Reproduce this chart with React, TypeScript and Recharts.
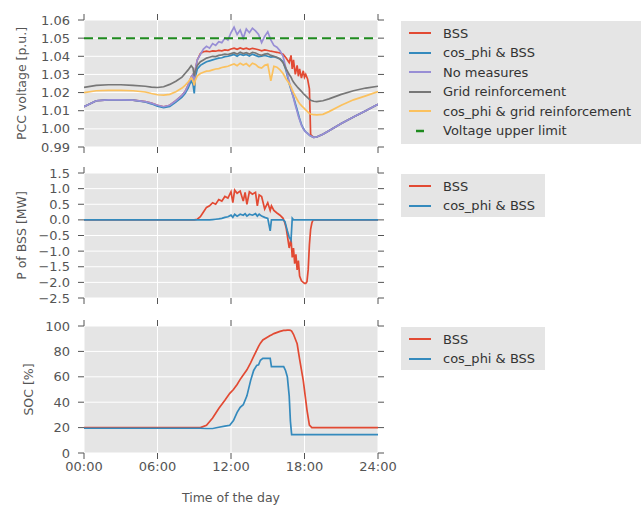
import React from 'react';
import { LineChart, Line, XAxis, YAxis, CartesianGrid, ReferenceLine, Legend, Label } from 'recharts';

// ---------- Panel 1: PCC voltage [p.u.] ----------
const timeV = [0, 1, 2, 3, 4, 5, 5.5, 6, 6.5, 7,
  7.5, 8, 8.25, 8.5, 8.75, 8.9, 9, 9.1, 9.25, 9.5,
  9.75, 10, 10.25, 10.5, 10.75, 11, 11.25, 11.5, 11.75, 12,
  12.25, 12.5, 12.75, 13, 13.25, 13.5, 13.75, 14, 14.25, 14.5,
  14.75, 15, 15.25, 15.5, 15.75, 16, 16.25, 16.5, 16.75, 16.9,
  17, 17.1, 17.25, 17.4, 17.5, 17.6, 17.75, 17.9, 18, 18.1,
  18.25, 18.4, 18.5, 18.75, 19, 19.5, 20, 21, 22, 23,
  24];

const vBss = [1.0122, 1.0155, 1.016, 1.016, 1.0158, 1.015, 1.0142, 1.013, 1.0122, 1.013,
  1.0155, 1.0185, 1.0205, 1.024, 1.0285, 1.03, 1.024, 1.033, 1.038, 1.0415,
  1.0425, 1.0428, 1.0425, 1.043, 1.0428, 1.0432, 1.043, 1.0435, 1.0433, 1.044,
  1.0445, 1.0438, 1.0446, 1.044, 1.0445, 1.0438, 1.0444, 1.044, 1.0436, 1.043,
  1.0435, 1.0432, 1.0428, 1.0425, 1.0422, 1.0418, 1.0412, 1.039, 1.0365, 1.0405,
  1.033, 1.038, 1.03, 1.035, 1.029, 1.033, 1.028, 1.032, 1.0285, 1.03,
  1.0275, 1.022, 0.9968, 0.9953, 0.9955, 0.997, 0.999, 1.003, 1.0065, 1.01,
  1.0135];

const vCosPhiBss = [1.0122, 1.0155, 1.016, 1.016, 1.0158, 1.0148, 1.0138, 1.0125, 1.0117, 1.0124,
  1.0148, 1.0175, 1.0195, 1.0225, 1.0265, 1.0245, 1.0195, 1.029, 1.033, 1.035,
  1.036, 1.037, 1.0375, 1.038, 1.0385, 1.039, 1.0392, 1.0398, 1.04, 1.0405,
  1.041, 1.04, 1.0412, 1.0405, 1.041, 1.0402, 1.0412, 1.0405, 1.0398, 1.04,
  1.0405, 1.04, 1.0395, 1.0398, 1.0392, 1.0385, 1.037, 1.032, 1.025, 1.0215,
  1.0195, 1.0175, 1.014, 1.0105, 1.008, 1.0055, 1.0025, 1.0003, 0.9992, 0.9983,
  0.9975, 0.9965, 0.996, 0.9953, 0.9955, 0.997, 0.999, 1.003, 1.0065, 1.01,
  1.0135];

const vNoMeasures = [1.0122, 1.0155, 1.016, 1.016, 1.0158, 1.015, 1.0142, 1.013, 1.0122, 1.013,
  1.0155, 1.0185, 1.0205, 1.024, 1.0285, 1.03, 1.024, 1.033, 1.038, 1.041,
  1.044, 1.0455, 1.0445, 1.047, 1.046, 1.048, 1.0475, 1.05, 1.049, 1.053,
  1.056, 1.052, 1.0545, 1.05, 1.055, 1.053, 1.0555, 1.054, 1.052, 1.0475,
  1.051, 1.0535, 1.049, 1.046, 1.045, 1.043, 1.04, 1.033, 1.026, 1.022,
  1.0195, 1.017, 1.013, 1.0095, 1.007, 1.005, 1.002, 1.0, 0.999, 0.9982,
  0.9975, 0.9965, 0.996, 0.9953, 0.9955, 0.997, 0.999, 1.003, 1.0065, 1.01,
  1.0135];

const vGridReinf = [1.0229, 1.024, 1.0243, 1.0243, 1.024, 1.0235, 1.023, 1.0228, 1.0232, 1.0245,
  1.0262, 1.0285, 1.0305, 1.0325, 1.0348, 1.0335, 1.029, 1.032, 1.035, 1.037,
  1.038, 1.039, 1.0395, 1.04, 1.0398, 1.0405, 1.0408, 1.0412, 1.041, 1.0415,
  1.042, 1.0412, 1.0422, 1.0415, 1.042, 1.0412, 1.0422, 1.0418, 1.041, 1.0405,
  1.0412, 1.0415, 1.0405, 1.04, 1.0395, 1.0385, 1.0365, 1.033, 1.03, 1.0285,
  1.027, 1.0258, 1.0245, 1.0232, 1.0225, 1.0218, 1.0207, 1.0195, 1.0188, 1.0182,
  1.0172, 1.0163, 1.0158, 1.0152, 1.015, 1.0155, 1.0165, 1.019, 1.021, 1.0225,
  1.0235];

const vCosPhiGrid = [1.02, 1.021, 1.0212, 1.0212, 1.021, 1.0203, 1.0195, 1.0188, 1.0186, 1.019,
  1.0205, 1.0225, 1.024, 1.0258, 1.028, 1.0265, 1.024, 1.027, 1.0292, 1.0305,
  1.0312, 1.0318, 1.032, 1.0325, 1.033, 1.0332, 1.0338, 1.0342, 1.0345, 1.0352,
  1.0358, 1.0348, 1.0362, 1.0352, 1.036, 1.0345, 1.0362, 1.0355, 1.034, 1.0335,
  1.035, 1.0355, 1.0265, 1.0345, 1.034, 1.0325, 1.0305, 1.0275, 1.025, 1.0232,
  1.0215, 1.02, 1.018, 1.0162, 1.015, 1.014, 1.0128, 1.0118, 1.0112, 1.0105,
  1.0095, 1.0085, 1.0082, 1.0078, 1.0077, 1.008, 1.0095, 1.013, 1.016, 1.0182,
  1.0205];

const voltageUpperLimit = 1.05;

// ---------- Panel 2: P of BSS [MW] ----------
const timeP = [0, 9, 9.25, 9.5, 9.75, 10, 10.25, 10.5, 10.75, 11,
  11.25, 11.5, 11.75, 12, 12.15, 12.3, 12.5, 12.75, 13, 13.15,
  13.3, 13.5, 13.75, 14, 14.15, 14.3, 14.5, 14.75, 15, 15.2,
  15.3, 15.5, 15.75, 16, 16.25, 16.4, 16.5, 16.6, 16.75, 16.9,
  17, 17.1, 17.2, 17.3, 17.4, 17.5, 17.6, 17.75, 17.9, 18,
  18.1, 18.2, 18.3, 18.4, 18.5, 18.6, 18.7, 19, 24];

const pBss = [0, 0, 0.02, 0.1, 0.25, 0.4, 0.45, 0.55, 0.5, 0.65,
  0.6, 0.75, 0.7, 0.9, 0.55, 0.95, 0.85, 0.92, 0.6, 0.88,
  0.5, 0.9, 0.82, 0.88, 0.45, 0.8, 0.75, 0.35, 0.55, 0.3,
  0.45, 0.3, 0.22, 0.15, 0.05, -0.1, -0.25, -0.5, -0.9, -0.6,
  -1.2, -0.9, -1.4, -1.1, -1.6, -1.3, -1.8, -1.95, -2.0, -2.03,
  -2.03, -1.98, -1.6, -0.8, -0.3, -0.1, 0, 0, 0];

const pCosPhiBss = [0, 0, 0, 0, 0, 0, 0, 0.01, 0.02, 0.03,
  0.05, 0.08, 0.1, 0.15, 0.08, 0.18, 0.12, 0.18, 0.15, 0.2,
  0.12, 0.18, 0.15, 0.2, 0.12, 0.18, 0.12, 0.08, 0.05, -0.35,
  0, 0, 0, 0, 0, -0.05, -0.2, -0.35, -0.55, -0.65,
  0.05, 0, 0, 0, 0, 0, 0, 0, 0, 0,
  0, 0, 0, 0, 0, 0, 0, 0, 0];

// ---------- Panel 3: SOC [%] ----------
const timeS = [0, 9.5, 10, 10.5, 11, 11.5, 11.9, 12.2, 12.5, 12.75,
  13, 13.3, 13.6, 13.85, 14.1, 14.25, 14.4, 14.6, 15.2, 15.3,
  15.5, 16, 16.3, 16.45, 16.6, 16.75, 16.85, 16.95, 17.1, 17.4,
  17.6, 17.9, 18.2, 18.4, 18.6, 24];

const socBss = [20, 20, 21.8, 27.5, 35, 41.5, 47, 50, 54, 58,
  61.5, 65.5, 71, 76, 81, 84, 86.5, 89, 92.5, 93,
  94, 95.8, 96.5, 96.6, 96.7, 96.7, 96.6, 96, 93.5, 86,
  74, 57, 34, 22, 20, 20];

const socCosPhiBss = [19.5, 19.5, 19.3, 19.3, 20.3, 21.2, 21.8, 25.5, 32, 36,
  38, 45, 57, 65, 69, 69.5, 73, 74.5, 74.5, 68,
  68, 68, 68, 65, 60, 45, 25, 14.5, 14.5, 14.5,
  14.5, 14.5, 14.5, 14.5, 14.5, 14.5];

// ---------- Axes ----------
const hourTicks = [0, 6, 12, 18, 24];
const hourLabels = ['00:00', '06:00', '12:00', '18:00', '24:00'];
const voltTicks = [0.99, 1.0, 1.01, 1.02, 1.03, 1.04, 1.05, 1.06];
const powerTicks = [-2.5, -2.0, -1.5, -1.0, -0.5, 0, 0.5, 1.0, 1.5];
const socTicks = [0, 20, 40, 60, 80, 100];

const C = {
  bss: '#E24A33',
  cosBss: '#348ABD',
  none: '#988ED5',
  grid: '#777777',
  cosGrid: '#FBC15E',
  limit: '#1E8A1E',
};

const voltLegend = [
  { name: 'BSS', color: C.bss, dashed: false },
  { name: 'cos_phi & BSS', color: C.cosBss, dashed: false },
  { name: 'No measures', color: C.none, dashed: false },
  { name: 'Grid reinforcement', color: C.grid, dashed: false },
  { name: 'cos_phi & grid reinforcement', color: C.cosGrid, dashed: false },
  { name: 'Voltage upper limit', color: C.limit, dashed: true },
];
const bssLegend = [
  { name: 'BSS', color: C.bss, dashed: false },
  { name: 'cos_phi & BSS', color: C.cosBss, dashed: false },
];

const FONT = '"DejaVu Sans", sans-serif';
const TICK = { fontSize: 13, fill: '#555555', fontFamily: FONT };

const voltData = timeV.map((t, i) => ({
  t, bss: vBss[i], cosBss: vCosPhiBss[i], none: vNoMeasures[i], grid: vGridReinf[i], cosGrid: vCosPhiGrid[i],
}));
const powerData = timeP.map((t, i) => ({ t, bss: pBss[i], cosBss: pCosPhiBss[i] }));
const socData = timeS.map((t, i) => ({ t, bss: socBss[i], cosBss: socCosPhiBss[i] }));

const fmtHour = (v: number) => {
  const i = hourTicks.indexOf(v);
  return i >= 0 ? hourLabels[i] : '';
};
const blank = () => '';
const fmtVolt = (v: number) => v.toFixed(2);
const fmtPower = (v: number) => (v < 0 ? '\u2212' + Math.abs(v).toFixed(1) : v.toFixed(1));
const fmtSoc = (v: number) => String(Math.round(v));

function LegendBox({ items, width, height }: { items: typeof voltLegend; width: number; height: number }) {
  return (
    <div style={{ width, height, background: '#E5E5E5', position: 'relative', fontFamily: FONT, fontSize: 13, color: '#333333' }}>
      {items.map((it, i) => (
        <div key={it.name} style={{ position: 'absolute', left: 8, top: 12 + i * 19.5 - 10, height: 20, display: 'flex', alignItems: 'center', whiteSpace: 'nowrap' }}>
          <svg width={22} height={6} style={{ display: 'block' }}>
            {it.dashed
              ? <line x1={7} y1={3} x2={15} y2={3} stroke={it.color} strokeWidth={2.5} />
              : <line x1={0} y1={3} x2={22} y2={3} stroke={it.color} strokeWidth={2} />}
          </svg>
          <span style={{ marginLeft: 12 }}>{it.name}</span>
        </div>
      ))}
    </div>
  );
}

const yLabel = (text: string, x: number) => (props: any) => {
  const vb = props.viewBox || { x: 0, y: 0, width: 0, height: 0 };
  const cy = vb.y + vb.height / 2;
  return (
    <text x={x} y={cy} transform={`rotate(-90 ${x} ${cy})`} textAnchor="middle" dominantBaseline="central"
      style={{ fontSize: 12.5, fill: '#555555', fontFamily: FONT }}>{text}</text>
  );
};

const xLabel = (text: string) => (props: any) => {
  const vb = props.viewBox || { x: 0, y: 0, width: 0, height: 0 };
  const cx = vb.x + vb.width / 2;
  const cy = vb.y + 44;
  return (
    <text x={cx} y={cy} textAnchor="middle" dominantBaseline="central"
      style={{ fontSize: 12.5, fill: '#555555', fontFamily: FONT }}>{text}</text>
  );
};

function commonAxes(o: {
  domain: [number, number]; ticks: number[]; fmt: (v: number) => string;
  label: string; labelX: number; xLabels: boolean; xHeight: number;
}) {
  return [
    <CartesianGrid key="grid" fill="#E5E5E5" stroke="#FFFFFF" strokeWidth={1} />,
    <XAxis key="xb" xAxisId={0} dataKey="t" type="number" domain={[0, 24]} allowDataOverflow ticks={hourTicks} interval={0}
      tickFormatter={o.xLabels ? fmtHour : blank} axisLine={false} tickLine={{ stroke: '#555555' }}
      tickSize={6} tickMargin={3} height={o.xHeight} tick={TICK}>
      {o.xLabels ? <Label content={xLabel('Time of the day')} /> : null}
    </XAxis>,
    <XAxis key="xt" xAxisId="top" dataKey="t" orientation="top" type="number" domain={[0, 24]} allowDataOverflow ticks={hourTicks} interval={0}
      tickFormatter={blank} axisLine={false} tickLine={{ stroke: '#555555' }} tickSize={6} height={5} tick={TICK} />,
    <YAxis key="yl" yAxisId={0} type="number" domain={o.domain} allowDataOverflow ticks={o.ticks} interval={0}
      tickFormatter={o.fmt} axisLine={false} tickLine={{ stroke: '#555555' }} tickSize={6} tickMargin={8}
      width={84} tick={TICK}>
      <Label content={yLabel(o.label, o.labelX)} />
    </YAxis>,
    <YAxis key="yr" yAxisId="right" orientation="right" type="number" domain={o.domain} allowDataOverflow ticks={o.ticks} interval={0}
      tickFormatter={blank} axisLine={false} tickLine={{ stroke: '#555555' }} tickSize={6} width={10} tick={TICK} />,
  ];
}

const lineProps = { type: 'linear' as const, dot: false, strokeWidth: 1.7, isAnimationActive: false, activeDot: false };

export default function App() {
  return (
    <div style={{ position: 'absolute', left: 0, top: 0, width: 641, height: 505, overflow: 'hidden', background: '#FFFFFF' }}>
      <div style={{ position: 'absolute', left: 0, top: 0 }}>
        <LineChart width={641} height={160} data={voltData} margin={{ top: 15, right: 253, bottom: 3, left: 0 }}>
          {commonAxes({ domain: [0.99, 1.06], ticks: voltTicks, fmt: fmtVolt, label: 'PCC voltage [p.u.]', labelX: 21, xLabels: false, xHeight: 10 })}
          <Line {...lineProps} dataKey="bss" name="BSS" stroke={C.bss} />
          <Line {...lineProps} dataKey="cosBss" name="cos_phi & BSS" stroke={C.cosBss} />
          <Line {...lineProps} dataKey="none" name="No measures" stroke={C.none} />
          <Line {...lineProps} dataKey="grid" name="Grid reinforcement" stroke={C.grid} />
          <Line {...lineProps} dataKey="cosGrid" name="cos_phi & grid reinforcement" stroke={C.cosGrid} />
          <ReferenceLine y={voltageUpperLimit} stroke={C.limit} strokeWidth={2} strokeDasharray="9 5" />
          <Legend verticalAlign="middle" align="center" layout="horizontal"
            wrapperStyle={{ left: 401, top: 21, width: 245, height: 123 }}
            content={() => <LegendBox items={voltLegend} width={245} height={123} />} />
        </LineChart>
      </div>
      <div style={{ position: 'absolute', left: 0, top: 160 }}>
        <LineChart width={641} height={150} data={powerData} margin={{ top: 8, right: 253, bottom: 2, left: 0 }}>
          {commonAxes({ domain: [-2.5, 1.5], ticks: powerTicks, fmt: fmtPower, label: 'P of BSS [MW]', labelX: 21, xLabels: false, xHeight: 10 })}
          <Line {...lineProps} dataKey="bss" name="BSS" stroke={C.bss} />
          <Line {...lineProps} dataKey="cosBss" name="cos_phi & BSS" stroke={C.cosBss} />
          <Legend verticalAlign="middle" align="center" layout="horizontal"
            wrapperStyle={{ left: 401, top: 14, width: 144, height: 43 }}
            content={() => <LegendBox items={bssLegend} width={144} height={43} />} />
        </LineChart>
      </div>
      <div style={{ position: 'absolute', left: 0, top: 310 }}>
        <LineChart width={641} height={195} data={socData} margin={{ top: 11, right: 253, bottom: 0, left: 0 }}>
          {commonAxes({ domain: [0, 100], ticks: socTicks, fmt: fmtSoc, label: 'SOC [%]', labelX: 28, xLabels: true, xHeight: 52 })}
          <Line {...lineProps} dataKey="bss" name="BSS" stroke={C.bss} />
          <Line {...lineProps} dataKey="cosBss" name="cos_phi & BSS" stroke={C.cosBss} />
          <Legend verticalAlign="middle" align="center" layout="horizontal"
            wrapperStyle={{ left: 401, top: 17, width: 144, height: 43 }}
            content={() => <LegendBox items={bssLegend} width={144} height={43} />} />
        </LineChart>
      </div>
    </div>
  );
}
